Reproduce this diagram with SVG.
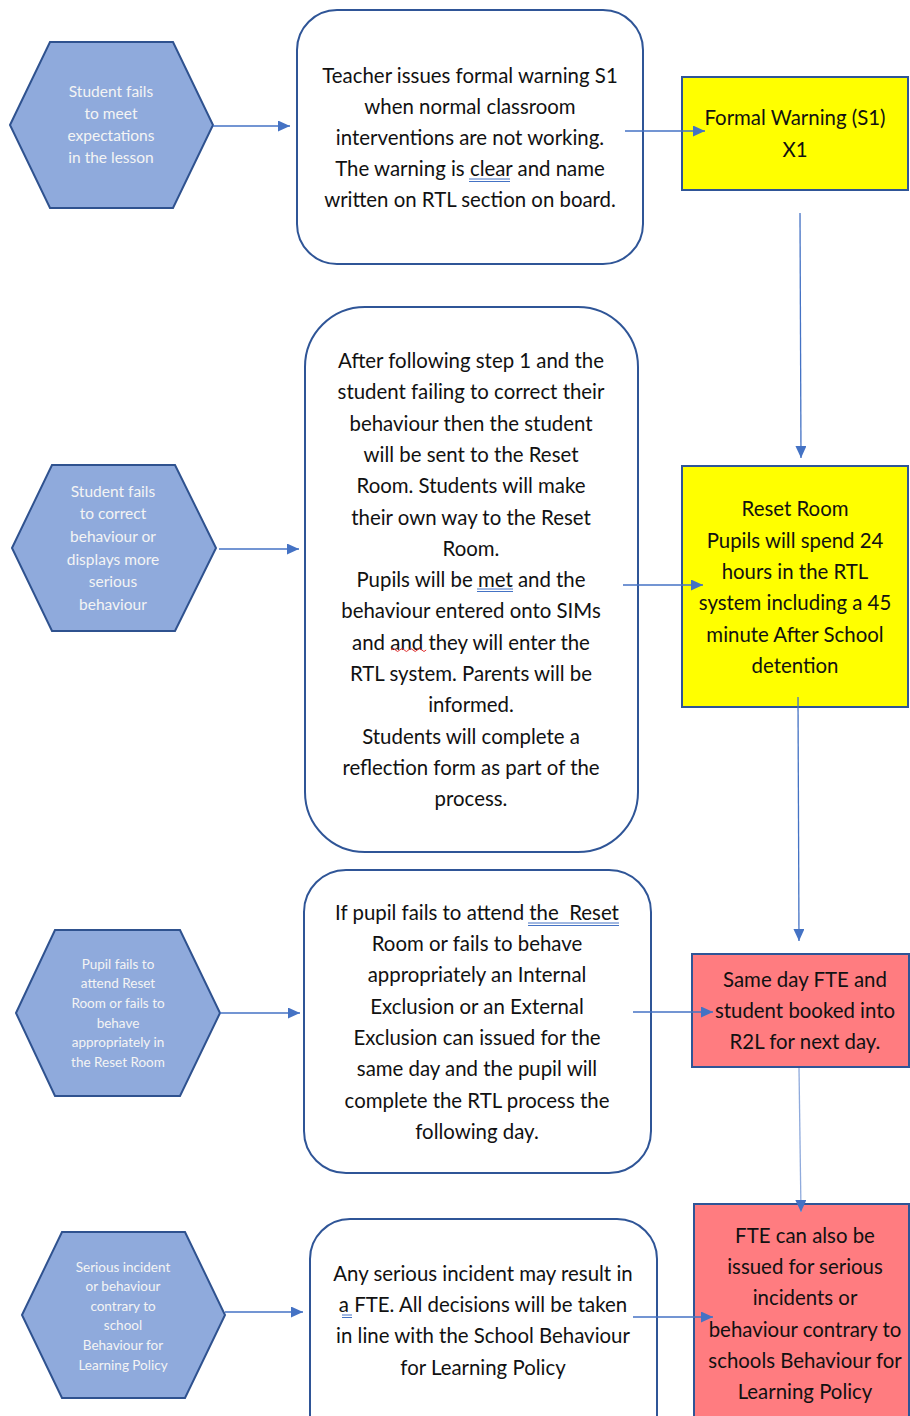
<svg xmlns="http://www.w3.org/2000/svg" width="910" height="1416" viewBox="0 0 910 1416">
<style>
.hex{fill:#8FAADC;stroke:#2F528F;stroke-width:2}
.ht{font-family:Lato,"Liberation Sans",sans-serif;fill:#F4F4F4;text-anchor:middle}
.h1{font-size:15.5px}
.h2{font-size:13.5px}
.box{fill:#FFFFFF;stroke:#2F5597;stroke-width:2}
.yel{fill:#FFFF00;stroke:#2F5597;stroke-width:2}
.pink{fill:#FF7C80;stroke:#2F5597;stroke-width:2}
.t{font-family:Lato,"Liberation Sans",sans-serif;font-size:20.4px;fill:#111111;text-anchor:middle}
.con{stroke:#4472C4;stroke-width:1.3;fill:none;marker-end:url(#ah)}
.ul{stroke:#4472C4;stroke-width:1;fill:none}
</style>
<defs>
<marker id="ah" markerUnits="userSpaceOnUse" markerWidth="12" markerHeight="11" refX="12" refY="5.5" orient="auto">
<path d="M0,0 L12,5.5 L0,11 z" fill="#4472C4"/>
</marker>
</defs>
<rect width="910" height="1416" fill="#FFFFFF"/>

<g id="hex1">
<polygon class="hex" points="10,125 50,42 173,42 213,125 173,208 50,208"/>
<text class="ht h1"><tspan x="111" y="97">Student fails</tspan><tspan x="111" y="119">to meet</tspan><tspan x="111" y="141">expectations</tspan><tspan x="111" y="163">in the lesson</tspan></text>
</g>

<g id="box1">
<rect class="box" x="297" y="10" width="346" height="254" rx="40"/>
<text class="t"><tspan x="470" y="83">Teacher issues formal warning S1</tspan><tspan x="470" y="114">when normal classroom</tspan><tspan x="470" y="145">interventions are not working.</tspan><tspan x="470" y="176">The warning is clear and name</tspan><tspan x="470" y="207">written on RTL section on board.</tspan></text>
<path class="ul" d="M469,179 H510 M469,181.5 H510"/>
</g>

<g id="formal">
<rect class="yel" x="682" y="77" width="226" height="113"/>
<text class="t"><tspan x="795" y="125">Formal Warning (S1)</tspan><tspan x="795" y="157">X1</tspan></text>
</g>

<g id="hex2">
<polygon class="hex" points="12,548 52,465 175,465 216,548 175,631 52,631"/>
<text class="ht h1"><tspan x="113" y="497">Student fails</tspan><tspan x="113" y="519">to correct</tspan><tspan x="113" y="542">behaviour or</tspan><tspan x="113" y="565">displays more</tspan><tspan x="113" y="587">serious</tspan><tspan x="113" y="610">behaviour</tspan></text>
</g>

<g id="box2">
<rect class="box" x="305" y="307" width="333" height="545" rx="60"/>
<text class="t"><tspan x="471" y="368">After following step 1 and the</tspan><tspan x="471" y="399">student failing to correct their</tspan><tspan x="471" y="431">behaviour then the student</tspan><tspan x="471" y="462">will be sent to the Reset</tspan><tspan x="471" y="493">Room. Students will make</tspan><tspan x="471" y="525">their own way to the Reset</tspan><tspan x="471" y="556">Room.</tspan><tspan x="471" y="587">Pupils will be met and the</tspan><tspan x="471" y="618">behaviour entered onto SIMs</tspan><tspan x="471" y="650">and and they will enter the</tspan><tspan x="471" y="681">RTL system. Parents will be</tspan><tspan x="471" y="712">informed.</tspan><tspan x="471" y="744">Students will complete a</tspan><tspan x="471" y="775">reflection form as part of the</tspan><tspan x="471" y="806">process.</tspan></text>
<path class="ul" d="M477,589 H513 M477,591.5 H513"/>
<path d="M391,650 q2.2,-3 4.4,0 t4.4,0 t4.4,0 t4.4,0 t4.4,0 t4.4,0 t4.4,0 t4.4,0" fill="none" stroke="#E03030" stroke-width="1"/>
</g>

<g id="reset">
<rect class="yel" x="682" y="466" width="226" height="241"/>
<text class="t"><tspan x="795" y="516">Reset Room</tspan><tspan x="795" y="548">Pupils will spend 24</tspan><tspan x="795" y="579">hours in the RTL</tspan><tspan x="795" y="610">system including a 45</tspan><tspan x="795" y="642">minute After School</tspan><tspan x="795" y="673">detention</tspan></text>
</g>

<g id="hex3">
<polygon class="hex" points="16,1013 55,930 180,930 220,1013 180,1096 55,1096"/>
<text class="ht h2"><tspan x="118" y="969">Pupil fails to</tspan><tspan x="118" y="988">attend Reset</tspan><tspan x="118" y="1008">Room or fails to</tspan><tspan x="118" y="1028">behave</tspan><tspan x="118" y="1047">appropriately in</tspan><tspan x="118" y="1067">the Reset Room</tspan></text>
</g>

<g id="box3">
<rect class="box" x="304" y="870" width="347" height="303" rx="42"/>
<text class="t" style="white-space:pre"><tspan x="477" y="920">If pupil fails to attend the  Reset</tspan><tspan x="477" y="951">Room or fails to behave</tspan><tspan x="477" y="982">appropriately an Internal</tspan><tspan x="477" y="1014">Exclusion or an External</tspan><tspan x="477" y="1045">Exclusion can issued for the</tspan><tspan x="477" y="1076">same day and the pupil will</tspan><tspan x="477" y="1108">complete the RTL process the</tspan><tspan x="477" y="1139">following day.</tspan></text>
<path class="ul" d="M528,923 H619 M528,925.5 H619"/>
</g>

<g id="sameday">
<rect class="pink" x="692" y="954" width="217" height="113"/>
<text class="t"><tspan x="805" y="987">Same day FTE and</tspan><tspan x="805" y="1018">student booked into</tspan><tspan x="805" y="1049">R2L for next day.</tspan></text>
</g>

<g id="hex4">
<polygon class="hex" points="22,1315 62,1232 185,1232 225,1315 185,1398 62,1398"/>
<text class="ht h2"><tspan x="123" y="1272">Serious incident</tspan><tspan x="123" y="1291">or behaviour</tspan><tspan x="123" y="1311">contrary to</tspan><tspan x="123" y="1330">school</tspan><tspan x="123" y="1350">Behaviour for</tspan><tspan x="123" y="1370">Learning Policy</tspan></text>
</g>

<g id="box4">
<rect class="box" x="310" y="1219" width="347" height="240" rx="40"/>
<text class="t"><tspan x="483" y="1281">Any serious incident may result in</tspan><tspan x="483" y="1312">a FTE. All decisions will be taken</tspan><tspan x="483" y="1343">in line with the School Behaviour</tspan><tspan x="483" y="1375">for Learning Policy</tspan></text>
<path class="ul" d="M342,1315 H352 M342,1317.5 H352"/>
</g>

<g id="fte">
<rect class="pink" x="694" y="1204" width="215" height="250"/>
<text class="t"><tspan x="805" y="1243">FTE can also be</tspan><tspan x="805" y="1274">issued for serious</tspan><tspan x="805" y="1305">incidents or</tspan><tspan x="805" y="1337">behaviour contrary to</tspan><tspan x="805" y="1368">schools Behaviour for</tspan><tspan x="805" y="1399">Learning Policy</tspan></text>
</g>

<g id="connectors">
<line class="con" x1="213" y1="126" x2="290" y2="126"/>
<line class="con" x1="625" y1="131" x2="705" y2="131"/>
<line class="con" x1="800" y1="213" x2="801" y2="458"/>
<line class="con" x1="219" y1="549" x2="299" y2="549"/>
<line class="con" x1="623" y1="585" x2="703" y2="585"/>
<line class="con" x1="798" y1="697" x2="799" y2="941"/>
<line class="con" x1="220" y1="1013" x2="300" y2="1013"/>
<line class="con" x1="633" y1="1012" x2="713" y2="1012"/>
<line class="con" x1="799" y1="1068" x2="801" y2="1212" style="stroke:#8FAADC"/>
<line class="con" x1="225" y1="1312" x2="303" y2="1312"/>
<line class="con" x1="633" y1="1317" x2="713" y2="1317"/>
</g>
</svg>
